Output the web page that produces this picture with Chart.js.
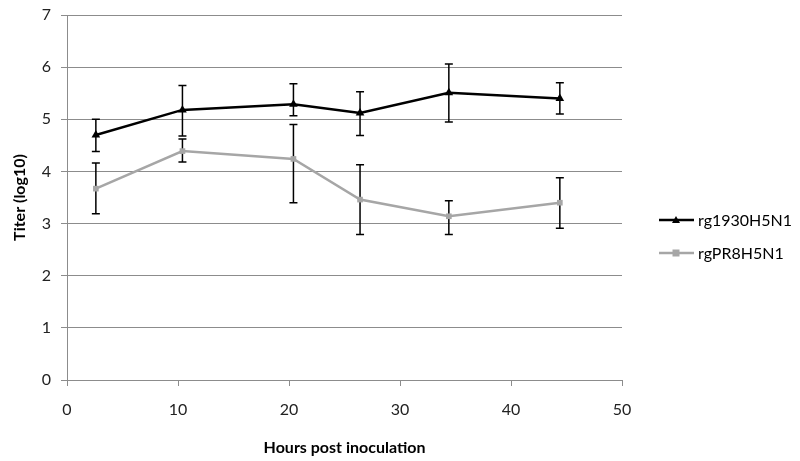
<!DOCTYPE html>
<html><head><meta charset="utf-8">
<script src="https://cdn.jsdelivr.net/npm/chart.js@4/dist/chart.umd.min.js"></script>
<style>html,body{margin:0;padding:0;background:#fff}#wrap{width:800px;height:461px}</style>
</head><body><div id="wrap"><canvas id="c" width="800" height="461"></canvas></div>
<script>
const hours = [2.6, 10.4, 20.4, 26.4, 34.4, 44.4];
const seriesNames = ['rg1930H5N1', 'rgPR8H5N1'];
const rg1930 = [4.70, 5.18, 5.29, 5.12, 5.51, 5.40];
const rg1930Hi = [5.00, 5.65, 5.68, 5.53, 6.06, 5.70];
const rg1930Lo = [4.38, 4.68, 5.07, 4.69, 4.95, 5.10];
const rgPR8 = [3.67, 4.39, 4.24, 3.46, 3.14, 3.40];
const rgPR8Hi = [4.16, 4.62, 4.90, 4.13, 3.44, 3.88];
const rgPR8Lo = [3.19, 4.18, 3.40, 2.79, 2.79, 2.91];
const xTicks = [0, 10, 20, 30, 40, 50];
const yTicks = [0, 1, 2, 3, 4, 5, 6, 7];

const FONT = 'Lato, "Open Sans", sans-serif';
const toPts = (ys) => hours.map((h, i) => ({x: h, y: ys[i]}));

const errorBars = {
  id: 'errorBars',
  beforeDatasetsDraw(chart) {
    const ctx = chart.ctx, ys = chart.scales.y;
    const bars = [[rg1930Hi, rg1930Lo], [rgPR8Hi, rgPR8Lo]];
    ctx.save();
    ctx.strokeStyle = '#000';
    ctx.lineWidth = 1.5;
    bars.forEach((b, di) => {
      const meta = chart.getDatasetMeta(di);
      meta.data.forEach((pt, i) => {
        const x = pt.x, yh = ys.getPixelForValue(b[0][i]), yl = ys.getPixelForValue(b[1][i]);
        ctx.beginPath();
        ctx.moveTo(x, yh); ctx.lineTo(x, yl);
        ctx.moveTo(x - 4, yh); ctx.lineTo(x + 4, yh);
        ctx.moveTo(x - 4, yl); ctx.lineTo(x + 4, yl);
        ctx.stroke();
      });
    });
    ctx.restore();
  }
};

const legendPlugin = {
  id: 'customLegend',
  afterDraw(chart) {
    const ctx = chart.ctx;
    const items = [
      {name: seriesNames[0], color: '#000', y: 220, shape: 'triangle'},
      {name: seriesNames[1], color: '#a6a6a6', y: 253, shape: 'rect'}
    ];
    ctx.save();
    items.forEach(it => {
      ctx.strokeStyle = it.color; ctx.fillStyle = it.color; ctx.lineWidth = 2.5;
      ctx.beginPath(); ctx.moveTo(659, it.y); ctx.lineTo(694, it.y); ctx.stroke();
      const cx = 676;
      ctx.beginPath();
      if (it.shape === 'triangle') { ctx.moveTo(cx - 4, it.y + 3); ctx.lineTo(cx + 4, it.y + 3); ctx.lineTo(cx, it.y - 4); }
      else { ctx.rect(cx - 3.5, it.y - 3.5, 7, 7); }
      ctx.fill();
      ctx.fillStyle = '#000';
      ctx.font = '16px ' + FONT;
      ctx.textBaseline = 'middle';
      ctx.fillText(it.name, 698, it.y + 1);
    });
    ctx.restore();
  }
};

new Chart(document.getElementById('c'), {
  type: 'line',
  data: {
    datasets: [
      {label: seriesNames[0], data: toPts(rg1930), borderColor: '#000', backgroundColor: '#000',
       borderWidth: 2.5, pointStyle: 'triangle', pointRadius: 5, pointBorderWidth: 0, tension: 0},
      {label: seriesNames[1], data: toPts(rgPR8), borderColor: '#a6a6a6', backgroundColor: '#a6a6a6',
       borderWidth: 2.5, pointStyle: 'rect', pointRadius: 4, pointBorderWidth: 0, tension: 0}
    ]
  },
  options: {
    responsive: false, animation: false,
    layout: {padding: {left: 0, right: 178, top: 15, bottom: 0}},
    plugins: {legend: {display: false}, tooltip: {enabled: false}},
    scales: {
      x: {
        type: 'linear', min: 0, max: 50,
        afterBuildTicks: (s) => { s.ticks = xTicks.map(v => ({value: v})); },
        afterFit: (s) => { s.height = 81; s.paddingLeft = 0; s.paddingRight = 0; },
        grid: {display: true, drawOnChartArea: false, drawTicks: true, tickLength: 6, color: '#8c8c8c'},
        border: {display: true, color: '#8c8c8c', width: 1},
        ticks: {font: {family: FONT, size: 16}, color: '#222', padding: 14, maxRotation: 0},
        title: {display: true, text: 'Hours post inoculation', font: {family: FONT, size: 16, weight: 'bold'}, color: '#000', padding: {top: 3}}
      },
      y: {
        min: 0, max: 7,
        afterBuildTicks: (s) => { s.ticks = yTicks.map(v => ({value: v})); },
        afterFit: (s) => { s.width = 67; s.paddingTop = 0; s.paddingBottom = 0; },
        grid: {color: '#8c8c8c', lineWidth: 1, drawTicks: true, tickLength: 6},
        border: {display: true, color: '#8c8c8c', width: 1},
        ticks: {font: {family: FONT, size: 16}, color: '#222', padding: 10},
        title: {display: true, text: 'Titer (log10)', font: {family: FONT, size: 16, weight: 'bold'}, color: '#000', padding: {top: 10, bottom: 0}}
      }
    }
  },
  plugins: [errorBars, legendPlugin]
});
</script></body></html>
